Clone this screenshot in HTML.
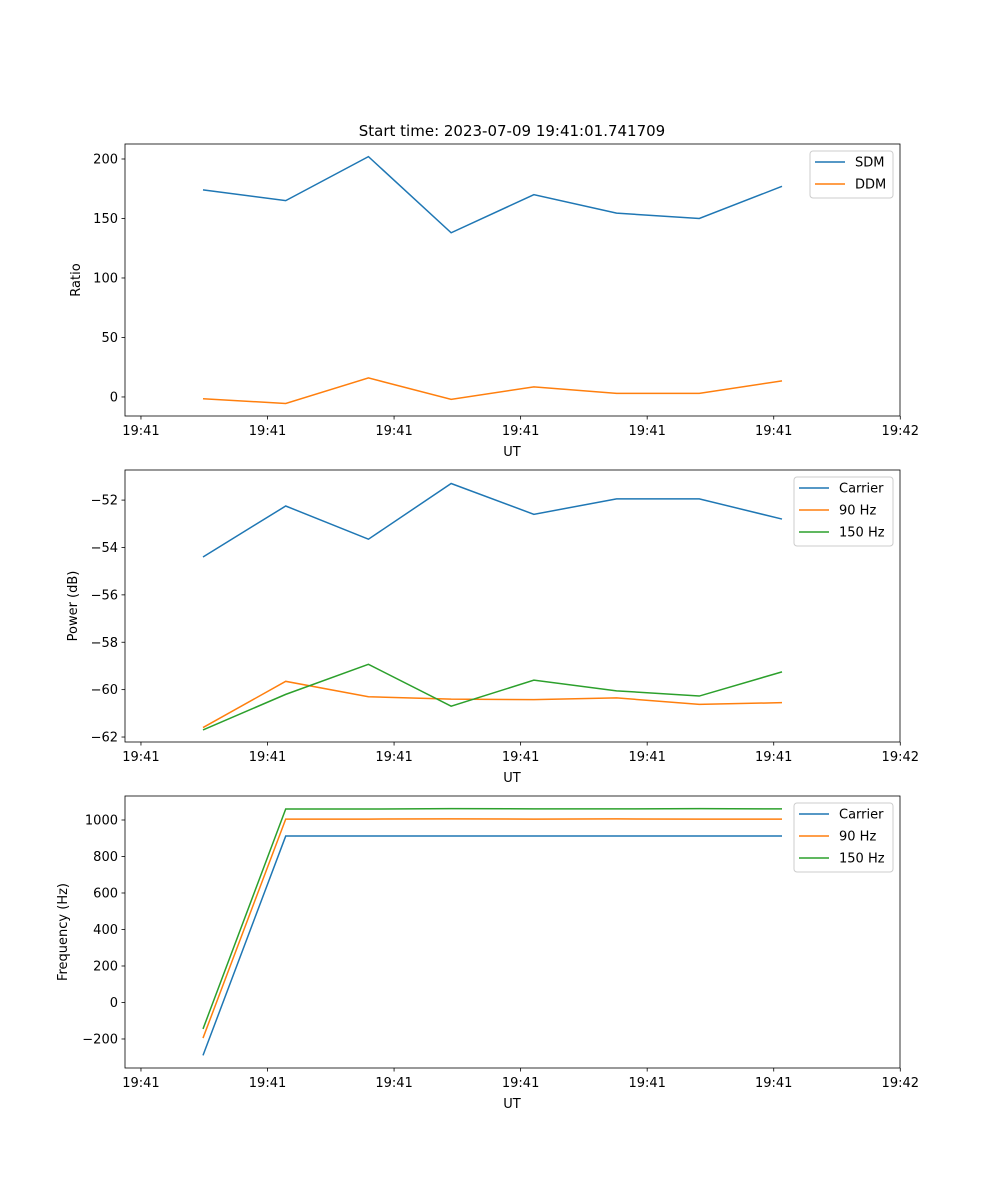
<!DOCTYPE html>
<html><head><meta charset="utf-8">
<style>
html,body{margin:0;padding:0;background:#fff;}
svg{display:block;font-family:"DejaVu Sans","Liberation Sans",sans-serif;}
</style></head>
<body>
<svg id="fig" width="1000" height="1200" viewBox="0 0 1000 1200">
<rect width="1000" height="1200" fill="#fff"/>
<text x="512" y="136" font-size="15" text-anchor="middle">Start time: 2023-07-09 19:41:01.741709</text>
</svg>
<script>
// shared x data (sample index)
const sampleIdx = [0,1,2,3,4,5,6,7];
const xTickVals = [-0.75,0.78,2.31,3.84,5.37,6.90,8.43];
const xTickLabels = ["19:41","19:41","19:41","19:41","19:41","19:41","19:42"];
// panel 1
const ratioTicks = [0,50,100,150,200];
const sdmValues = [174,165,202,138,170,154.5,150,177];
const ddmValues = [-1.5,-5.5,16,-2,8.5,3,3,13.5];
// panel 2
const powerTicks = [-62,-60,-58,-56,-54,-52];
const powerCarrier = [-54.4,-52.25,-53.65,-51.3,-52.6,-51.95,-51.95,-52.8];
const power90 = [-61.6,-59.65,-60.3,-60.4,-60.42,-60.35,-60.62,-60.55];
const power150 = [-61.7,-60.2,-58.93,-60.7,-59.6,-60.05,-60.27,-59.25];
// panel 3
const freqTicks = [-200,0,200,400,600,800,1000];
const freqCarrier = [-290,912,912,912,912,912,912,912];
const freq90 = [-195,1005,1005,1006,1005,1006,1005,1005];
const freq150 = [-145,1060,1060,1062,1061,1061,1062,1061];

const NS="http://www.w3.org/2000/svg";
const svg=document.getElementById('fig');
function mk(tag,attrs,parent){const e=document.createElementNS(NS,tag);for(const k in attrs)e.setAttribute(k,attrs[k]);(parent||svg).appendChild(e);return e;}
const L=125,R=900;
const xs=i=>203+(i-0)*(782-203)/7;
const colors={b:"#1f77b4",o:"#ff7f0e",g:"#2ca02c"};

function panel(name,top,bot,ymin,ymax,ticks,ylabel,ylabelX,series,legend){
  const g=mk('g',{});
  
  
  const ys=v=>bot-(v-ymin)/(ymax-ymin)*(bot-top);
  series.forEach(s=>{
    const p=mk('polyline',{points:s.vals.map((v,i)=>xs(sampleIdx[i])+','+ys(v)).join(' '),fill:'none',stroke:s.c,'stroke-width':1.5},g);
    
    
  });
  const fr=mk('rect',{x:L,y:top,width:R-L,height:bot-top,fill:'none',stroke:'#000','stroke-width':0.8},g);
  
  
  ticks.forEach(t=>{
    const y=ys(t);
    mk('line',{x1:L-3.5,x2:L,y1:y,y2:y,stroke:'#000','stroke-width':0.8},g);
    const tx=mk('text',{x:L-7,y:y+4.5,'font-size':13,'text-anchor':'end'},g);
    tx.textContent=String(t).replace('-','\u2212');
    
    
  });
  xTickVals.forEach((t,i)=>{
    const x=xs(t);
    mk('line',{x1:x,x2:x,y1:bot,y2:bot+3.5,stroke:'#000','stroke-width':0.8},g);
    const tx=mk('text',{x:x,y:bot+19,'font-size':13,'text-anchor':'middle'},g);
    tx.textContent=xTickLabels[i];
    
    
  });
  const xl=mk('text',{x:512,y:bot+40,'font-size':13,'text-anchor':'middle'},g);
  xl.textContent='UT';
  
  
  const yl=mk('text',{x:ylabelX,y:(top+bot)/2,'font-size':13,'text-anchor':'middle',transform:`rotate(-90 ${ylabelX} ${(top+bot)/2})`},g);
  yl.textContent=ylabel;
  
  
  // legend
  const lg=mk('g',{},g);
  
  
  mk('rect',{x:legend.x,y:top+7,width:R-7-legend.x,height:series.length*22+3,rx:3,fill:'#fff','fill-opacity':0.8,stroke:'#ccc','stroke-width':1},lg);
  series.forEach((s,i)=>{
    const y=top+18+i*22;
    mk('line',{x1:legend.x+5,x2:legend.x+35,y1:y,y2:y,stroke:s.c,'stroke-width':1.5},lg);
    const t=mk('text',{x:legend.x+45,y:y+4.5,'font-size':13},lg);
    t.textContent=s.label;
    
    
  });
}
panel('ratio-panel',144,416,-16,212.6,ratioTicks,'Ratio',80,
  [{id:'sdm-line',label:'SDM',vals:sdmValues,c:colors.b},{id:'ddm-line',label:'DDM',vals:ddmValues,c:colors.o}],{x:810});
panel('power-panel',470,742,-62.21,-50.73,powerTicks,'Power (dB)',77,
  [{id:'carrier-power-line',label:'Carrier',vals:powerCarrier,c:colors.b},{id:'power-90hz-line',label:'90 Hz',vals:power90,c:colors.o},{id:'power-150hz-line',label:'150 Hz',vals:power150,c:colors.g}],{x:794});
panel('frequency-panel',796,1068,-359,1131.5,freqTicks,'Frequency (Hz)',67,
  [{id:'carrier-freq-line',label:'Carrier',vals:freqCarrier,c:colors.b},{id:'freq-90hz-line',label:'90 Hz',vals:freq90,c:colors.o},{id:'freq-150hz-line',label:'150 Hz',vals:freq150,c:colors.g}],{x:794});
</script>
</body></html>
